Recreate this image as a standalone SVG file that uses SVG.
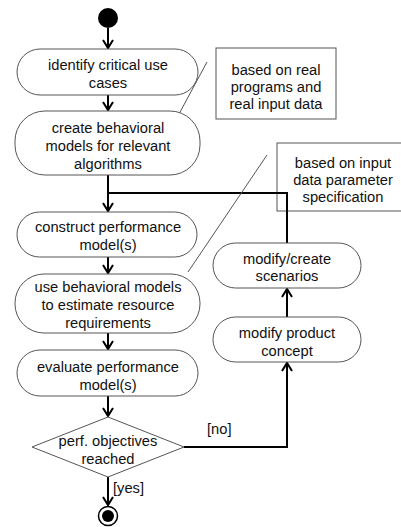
<svg xmlns="http://www.w3.org/2000/svg" width="401" height="527" viewBox="0 0 401 527">
  <defs>
    <style>
      .act { fill: #ffffff; stroke: #555555; stroke-width: 1; }
      .note { fill: #ffffff; stroke: #555555; stroke-width: 1; }
      .anchor { fill: none; stroke: #555555; stroke-width: 1; }
      .flow { fill: none; stroke: #000000; stroke-width: 2; }
      text { font-family: "Liberation Sans", Arial, sans-serif; font-size: 14.7px; fill: #111111; text-anchor: middle; }
      .guard { text-anchor: start; }
    </style>
    <marker id="arrow" viewBox="0 0 12 12" refX="10" refY="6" markerWidth="12" markerHeight="12" markerUnits="userSpaceOnUse" orient="auto">
      <path d="M2,1 L10,6 L2,11" fill="none" stroke="#000000" stroke-width="2"/>
    </marker>
  </defs>

  <rect width="401" height="527" fill="#ffffff"/>

  <!-- comment notes sit underneath the flow lines -->
  <g id="note-real">
    <rect class="note" x="216" y="48" width="120" height="71"/>
    <text x="276" y="75">based on real</text>
    <text x="276" y="92">programs and</text>
    <text x="276" y="109">real input data</text>
  </g>

  <g id="note-input">
    <rect class="note" x="277" y="143" width="140" height="68"/>
    <text x="343" y="168">based on input</text>
    <text x="343" y="185">data parameter</text>
    <text x="343" y="202">specification</text>
  </g>

  <!-- connectors -->
  <g id="connectors">
    <line class="flow" x1="108" y1="28" x2="108" y2="48" marker-end="url(#arrow)"/>
    <line class="flow" x1="108" y1="95" x2="108" y2="110" marker-end="url(#arrow)"/>
    <line class="flow" x1="108" y1="175" x2="108" y2="211" marker-end="url(#arrow)"/>
    <polyline class="flow" points="287,243 287,193 108,193"/>
    <line class="flow" x1="108" y1="257" x2="108" y2="273" marker-end="url(#arrow)"/>
    <line class="flow" x1="108" y1="333" x2="108" y2="349" marker-end="url(#arrow)"/>
    <line class="flow" x1="108" y1="396" x2="108" y2="416" marker-end="url(#arrow)"/>
    <polyline class="flow" points="184,447 287,447 287,363" marker-end="url(#arrow)"/>
    <line class="flow" x1="287" y1="317" x2="287" y2="289" marker-end="url(#arrow)"/>
    <line class="flow" x1="108" y1="477" x2="108" y2="505" marker-end="url(#arrow)"/>
    <text class="guard" x="207" y="434">[no]</text>
    <text class="guard" x="113" y="493">[yes]</text>
    <!-- note anchors -->
    <line class="anchor" x1="207" y1="62" x2="172" y2="127"/>
    <line class="anchor" x1="267" y1="155" x2="188" y2="272"/>
  </g>

  <g id="start">
    <circle cx="108" cy="18" r="10" fill="#000000"/>
  </g>

  <g id="identify">
    <rect class="act" x="17" y="49" width="181" height="46" rx="23"/>
    <text x="108" y="70">identify critical use</text>
    <text x="108" y="88">cases</text>
  </g>

  <g id="create-models">
    <rect class="act" x="15" y="111" width="185" height="64" rx="30"/>
    <text x="108" y="133">create behavioral</text>
    <text x="108" y="151">models for relevant</text>
    <text x="108" y="169">algorithms</text>
  </g>

  <g id="construct">
    <rect class="act" x="17" y="212" width="180" height="45" rx="22.5"/>
    <text x="108" y="232">construct performance</text>
    <text x="108" y="250">model(s)</text>
  </g>

  <g id="estimate">
    <rect class="act" x="15" y="274" width="185" height="59" rx="29"/>
    <text x="108" y="292">use behavioral models</text>
    <text x="108" y="310">to estimate resource</text>
    <text x="108" y="328">requirements</text>
  </g>

  <g id="evaluate">
    <rect class="act" x="17" y="350" width="181" height="46" rx="23"/>
    <text x="108" y="372">evaluate performance</text>
    <text x="108" y="390">model(s)</text>
  </g>

  <g id="decision">
    <polygon class="act" points="108,417 184,447 108,477 32,447"/>
    <text x="108" y="446">perf. objectives</text>
    <text x="108" y="464">reached</text>
  </g>

  <g id="end">
    <circle cx="108" cy="516" r="9.5" fill="#ffffff" stroke="#000000" stroke-width="1.5"/>
    <circle cx="108" cy="516" r="6" fill="#000000"/>
  </g>

  <g id="scenarios">
    <rect class="act" x="213" y="243" width="148" height="45" rx="22.5"/>
    <text x="287" y="264">modify/create</text>
    <text x="287" y="281">scenarios</text>
  </g>

  <g id="product">
    <rect class="act" x="213" y="317" width="148" height="45" rx="22.5"/>
    <text x="287" y="338">modify product</text>
    <text x="287" y="356">concept</text>
  </g>
</svg>
